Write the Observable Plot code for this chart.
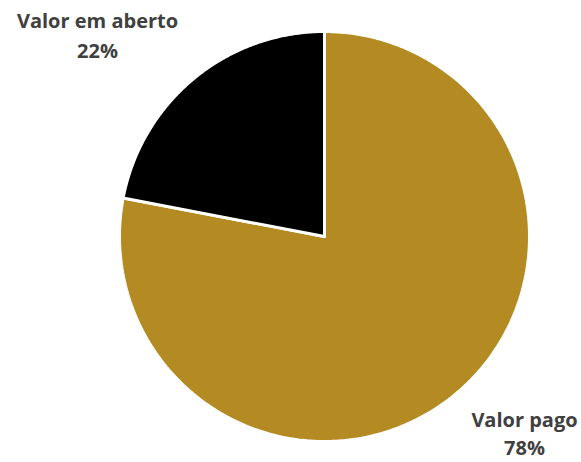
<!DOCTYPE html>
<html>
<head>
<meta charset="utf-8">
<script src="https://cdn.jsdelivr.net/npm/d3@7"></script>
<script src="https://cdn.jsdelivr.net/npm/@observablehq/plot@0.6"></script>
<style>
html,body{margin:0;padding:0;background:#fff;}
</style>
</head>
<body>
<div id="chart"></div>
<script>
const categories = ["Valor pago", "Valor em aberto"];
const values = [78, 22];
const colors = ["#B38B22", "#000000"];
const labels = ["78%", "22%"];

const W = 581, H = 462;
const cx = 324, cy = 236, R = 205;

const data = categories.map((c, i) => ({category: c, value: values[i], color: colors[i], label: labels[i]}));
const arcs = d3.pie().sort(null).value(d => d.value)(data);

// polygon points for each slice (unit circle coordinates)
const pts = [];
arcs.forEach((a, i) => {
  const n = 240;
  pts.push({k: i, x: 0, y: 0});
  for (let j = 0; j <= n; j++) {
    const t = a.startAngle + (a.endAngle - a.startAngle) * j / n;
    pts.push({k: i, x: Math.sin(t), y: Math.cos(t)});
  }
  pts.push({k: i, x: 0, y: 0});
});

// label anchor positions (pixel layout converted to unit coords)
const px = v => (v - cx) / R;
const py = v => (cy - v) / R;
const textData = [
  {t: categories[1], x: px(97), y: py(21)},
  {t: labels[1], x: px(97), y: py(51)},
  {t: categories[0], x: px(524), y: py(420)},
  {t: labels[0], x: px(524), y: py(448)}
];

const chart = Plot.plot({
  width: W,
  height: H,
  margin: 0,
  x: {type: "linear", domain: [-1, 1], range: [cx - R, cx + R], axis: null},
  y: {type: "linear", domain: [-1, 1], range: [cy + R, cy - R], axis: null},
  marks: [
    ...arcs.map((a, i) => Plot.line(pts.filter(p => p.k === i), {x: "x", y: "y", fill: colors[i], stroke: "#ffffff", strokeWidth: 3, strokeLinejoin: "miter"})),
    Plot.text(textData, {x: "x", y: "y", text: "t", textAnchor: "middle", lineAnchor: "middle", fontSize: 20, fontWeight: "bold", fill: "#404040", fontFamily: "'Open Sans', sans-serif"})
  ]
});
document.getElementById("chart").appendChild(chart);
</script>
</body>
</html>
